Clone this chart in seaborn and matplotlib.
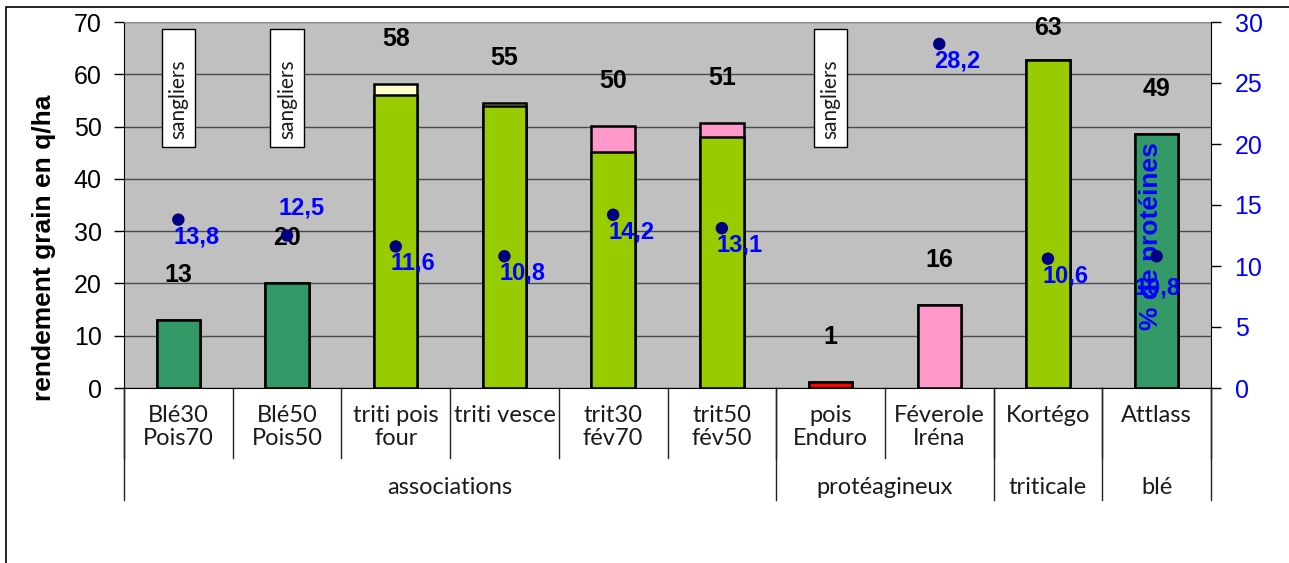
import numpy as np
import pandas as pd
import matplotlib
matplotlib.use("Agg")
import matplotlib.pyplot as plt
import seaborn as sns
from matplotlib.patches import Rectangle

# --- data ---
varieties = ["Blé30\nPois70", "Blé50\nPois50", "triti pois\nfour", "triti vesce",
             "trit30\nfév70", "trit50\nfév50", "pois\nEnduro", "Féverole\nIréna",
             "Kortégo", "Attlass"]
groups = ["associations", "protéagineux", "triticale", "blé"]
group_sizes = [6, 2, 1, 1]
base_yield = [13.0, 20.0, 56.0, 54.0, 45.2, 48.1, 1.2, 15.9, 62.8, 48.6]
top_yield = [0.0, 0.0, 2.2, 0.6, 4.9, 2.6, 0.0, 0.0, 0.0, 0.0]
protein = [13.8, 12.5, 11.6, 10.8, 14.2, 13.1, np.nan, 28.2, 10.6, 10.8]
boar_damage = [0, 1, 6]  # "sangliers" notes

base_colors = ["#339966", "#339966", "#99CC00", "#99CC00", "#99CC00",
               "#99CC00", "#FF0000", "#FF99CC", "#99CC00", "#339966"]
top_colors = ["#339966", "#339966", "#FFFFCC", "#FFFFCC", "#FF99CC",
              "#FF99CC", "#FF0000", "#FF99CC", "#99CC00", "#339966"]

df = pd.DataFrame({"variete": varieties, "base": base_yield, "haut": top_yield,
                   "proteines": protein})
df["total"] = df["base"] + df["haut"]
df["pos"] = np.arange(len(df))

plt.rcParams["font.family"] = ["Liberation Sans", "DejaVu Sans"]
LIGHT = ["Lato", "DejaVu Sans"]
TXT = "#1a1a1a"

fig = plt.figure(figsize=(12.89, 5.63), dpi=100)
ax = fig.add_axes([124 / 1289, 175 / 563, 1087 / 1289, 366 / 563])
ax.set_facecolor("#C0C0C0")

# stacked bars: totals in the top colour, then the base over them
sns.barplot(data=df, x="variete", y="total", hue="variete", order=varieties,
            palette=dict(zip(varieties, top_colors)), legend=False, width=0.4,
            saturation=1, edgecolor="black", linewidth=1.8, ax=ax)
sns.barplot(data=df, x="variete", y="base", hue="variete", order=varieties,
            palette=dict(zip(varieties, base_colors)), legend=False, width=0.4,
            saturation=1, edgecolor="black", linewidth=1.8, ax=ax)

ax.set_xlim(-0.5, len(varieties) - 0.5)
ax.set_ylim(0, 70)
ax.set_yticks(range(0, 71, 10))
ax.yaxis.grid(True, color="#4a4a4a", lw=1)
ax.set_axisbelow(True)
ax.set_xlabel("")
ax.set_xticks([])
ax.tick_params(axis="y", direction="out", length=7, width=1, pad=9, labelsize=18)
ax.set_ylabel("rendement grain en q/ha", fontsize=19, fontweight="bold")
ax.yaxis.set_label_coords(-0.063, 0.383)
for s in ["left", "bottom"]:
    ax.spines[s].set_color("black")
ax.spines["top"].set_color("#8a8a8a")
ax.spines["right"].set_visible(False)

# yield labels
for p, tot in zip(df["pos"], df["total"]):
    ax.text(p, min(tot + 8.6, 68.8), f"{tot:.0f}", ha="center", va="center",
            fontsize=18, fontweight="bold", color="black")

# "sangliers" boxes
for i in boar_damage:
    ax.add_patch(Rectangle((i - 0.155, 46), 0.31, 22.6, facecolor="white",
                           edgecolor="black", lw=1, zorder=3))
    ax.text(i, 55.3, "sangliers", rotation=90, ha="center", va="center",
            fontsize=15, family=LIGHT, color=TXT, zorder=4)

# protein content on the right axis
ax2 = ax.twinx()
sns.scatterplot(data=df, x="pos", y="proteines", color="#000080", s=80,
                edgecolor="none", ax=ax2, zorder=5)
ax2.set_ylim(0, 30)
ax2.set_xlim(-0.5, len(varieties) - 0.5)
ax2.set_yticks(range(0, 31, 5))
ax2.tick_params(axis="y", direction="out", length=7, width=1, pad=10,
                labelsize=18, labelcolor="#0000FF", color="black")
ax2.set_ylabel("% de protéines", fontsize=19, fontweight="bold", color="#0000FF")
ax2.yaxis.set_label_coords(0.934, 0.415)
ax2.spines["right"].set_color("black")
for s in ["top", "left", "bottom"]:
    ax2.spines[s].set_visible(False)

label_offsets = {1: (-9, 28), 9: (-22, -32)}
for p, v in zip(df["pos"], df["proteines"]):
    if np.isnan(v):
        continue
    dx, dy = label_offsets.get(p, (-5, -17))
    ax2.annotate(f"{v:.1f}".replace(".", ","), xy=(p, v), xytext=(dx, dy),
                 textcoords="offset pixels", ha="left", va="center",
                 fontsize=17, fontweight="bold", color="#0000FF", zorder=6)

# multi-level category axis
trans = ax.get_xaxis_transform()
for i, name in enumerate(varieties):
    ax.annotate(name, xy=(i, 0), xycoords=trans, xytext=(0, -17),
                textcoords="offset pixels", ha="center", va="top",
                fontsize=17, family=LIGHT, color=TXT,
                linespacing=1.1, annotation_clip=False)
for b in np.arange(len(varieties) + 1) - 0.5:
    ax.plot([b, b], [0, -0.191], transform=trans, color="#222222", lw=1,
            clip_on=False)
start = 0
for g, n in zip(groups, group_sizes):
    ax.plot([start - 0.5, start - 0.5], [0, -0.306], transform=trans,
            color="#222222", lw=1, clip_on=False)
    ax.text(start + (n - 1) / 2, -0.273, g, transform=trans, ha="center",
            va="center", fontsize=17, family=LIGHT, color=TXT)
    start += n
ax.plot([start - 0.5, start - 0.5], [0, -0.306], transform=trans,
        color="#222222", lw=1, clip_on=False)

# chart-area frame
fig.add_artist(Rectangle((6 / 1289, -0.2), 2, (556 / 563) + 0.2,
                         transform=fig.transFigure, facecolor="none",
                         edgecolor="black", lw=1.2))

fig.savefig("out.png", dpi=100)
